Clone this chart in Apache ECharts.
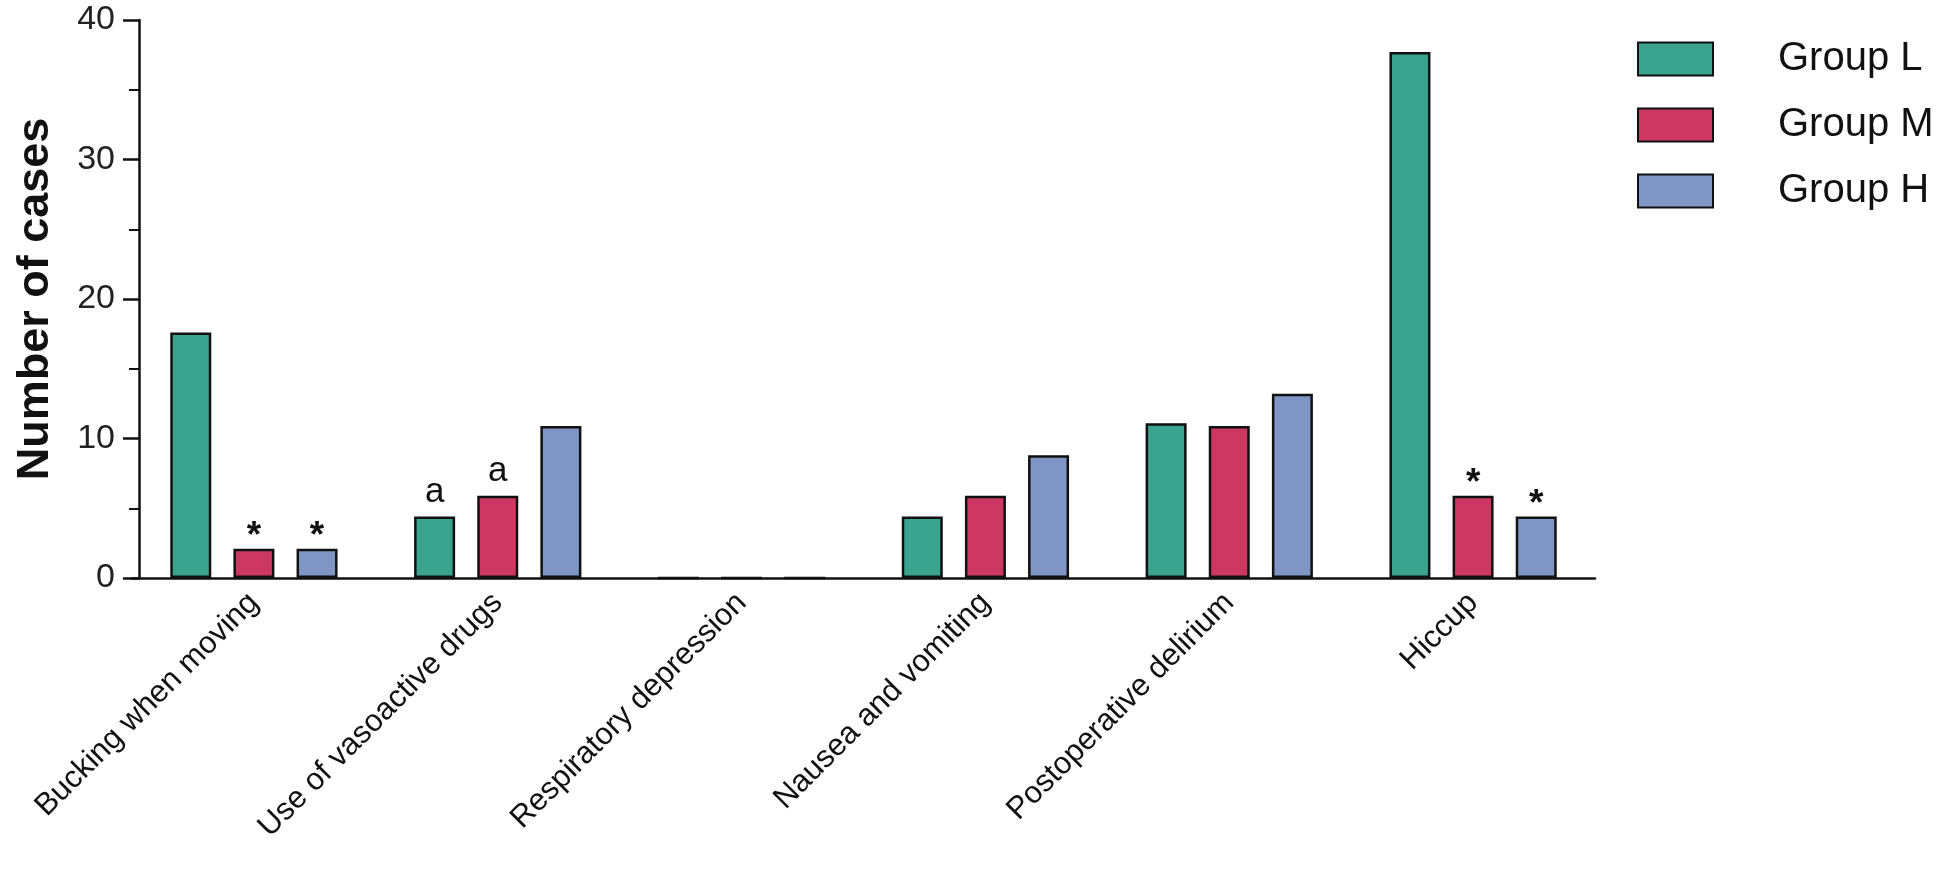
<!DOCTYPE html>
<html>
<head>
<meta charset="utf-8">
<script src="https://cdn.jsdelivr.net/npm/echarts@6/dist/echarts.min.js"></script>
<style>html,body{margin:0;padding:0;background:#fff}#c{width:1948px;height:869px}</style>
</head>
<body>
<div id="c"></div>
<script>
const categories = ['Bucking when moving','Use of vasoactive drugs','Respiratory depression','Nausea and vomiting','Postoperative delirium','Hiccup'];
const groupL = [17.6, 4.4, 0, 4.4, 11.1, 37.7];
const groupM = [2.1, 5.9, 0, 5.9, 10.9, 5.9];
const groupH = [2.1, 10.9, 0, 8.8, 13.2, 4.4];
const markL = ['', 'a', '', '', '', ''];
const markM = ['*', 'a', '', '', '', '*'];
const markH = ['*', '', '', '', '', '*'];
const seriesNames = ['Group L','Group M','Group H'];
const colors = ['#3aa48f','#cc3862','#7f95c4'];
const yTicks = [0, 10, 20, 30, 40];

const font = 'Liberation Sans, Arial, sans-serif';
function fmt(m){
  if (m === '*') return '{s|*}';
  if (m === 'a') return '{a|a}';
  return '';
}
function mkSeries(name, data, marks, color){
  return {
    name: name, type: 'bar', data: data,
    barWidth: 41, barGap: '54%',
    itemStyle: {color: color, borderColor: '#111', borderWidth: 2.5},
    label: {
      show: true, position: 'top', distance: 4,
      formatter: p => fmt(marks[p.dataIndex]),
      rich: {
        s: {fontFamily: font, fontSize: 37, fontWeight: 'bold', color: '#111', lineHeight: 13, padding: [0,0,2,0]},
        a: {fontFamily: font, fontSize: 35, color: '#111', lineHeight: 35, padding: [0,0,6,0]}
      }
    },
    emphasis: {disabled: true}
  };
}
const chart = echarts.init(document.getElementById('c'), null, {renderer: 'canvas'});
chart.setOption({
  animation: false,
  backgroundColor: '#fff',
  grid: {left: 132, right: 353, top: 20, bottom: 291, containLabel: false},
  legend: {
    orient: 'vertical', left: 1632, top: 34,
    icon: 'rect',
    itemWidth: 75, itemHeight: 33, itemGap: 26,
    data: seriesNames,
    textStyle: {fontFamily: font, fontSize: 40, color: '#111', padding: [0,0,0,60]},
    selectedMode: false
  },
  xAxis: {
    type: 'category', data: categories,
    axisLine: {lineStyle: {color: '#111', width: 2.5}},
    axisTick: {alignWithLabel: true, length: 15, lineStyle: {color: '#111', width: 2}},
    axisLabel: {rotate: 45, fontFamily: font, fontSize: 31, color: '#111', margin: 20, interval: 0}
  },
  yAxis: {
    type: 'value', min: yTicks[0], max: yTicks[yTicks.length-1], interval: 10,
    offset: -7,
    name: 'Number of cases', nameLocation: 'middle', nameGap: 81,
    nameTextStyle: {fontFamily: font, fontSize: 45, fontWeight: 'bold', color: '#111'},
    axisLine: {show: true, lineStyle: {color: '#111', width: 2.5}},
    axisTick: {show: true, length: 16, lineStyle: {color: '#111', width: 2.5}},
    minorTick: {show: true, splitNumber: 2, length: 10, lineStyle: {color: '#111', width: 2}},
    splitLine: {show: false},
    axisLabel: {fontFamily: font, fontSize: 34, color: '#222', margin: 24}
  },
  series: [
    mkSeries(seriesNames[0], groupL, markL, colors[0]),
    mkSeries(seriesNames[1], groupM, markM, colors[1]),
    mkSeries(seriesNames[2], groupH, markH, colors[2])
  ]
});
</script>
</body>
</html>
